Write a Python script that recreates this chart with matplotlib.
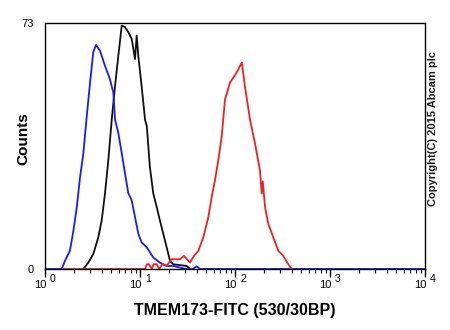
import matplotlib
matplotlib.use("Agg")
import matplotlib.pyplot as plt
from matplotlib.ticker import FixedLocator, NullFormatter, LogLocator
from matplotlib.transforms import blended_transform_factory, offset_copy

plt.rcParams['font.family'] = ['Liberation Sans', 'DejaVu Sans']

# Isotype control (blue)
blue_x = [1.0, 1.50, 1.62, 1.83, 1.99, 2.16, 2.34, 2.53, 2.75, 2.98, 3.22, 3.44,
          3.79, 4.28, 4.83, 5.24, 5.46, 5.91, 6.42, 6.95, 7.53, 8.18, 8.86,
          9.60, 10.4, 11.8, 13.8, 16.2, 19.1, 22.4, 26.4, 31.0, 36.0, 39.5,
          42.8, 10000.0]
blue_y = [0, 0, 2.4, 5.4, 11.4, 18.3, 27.3, 34.2, 45.3, 55.3, 64.3, 66.5,
          64.8, 60.3, 56.3, 52.3, 44.3, 40.4, 34.4, 28.4, 22.5, 20.4, 15.4,
          10.5, 7.9, 6.4, 3.4, 1.9, 0.9, 0.9, 0.4, 0, 0, 0.8,
          0, 0]

# Unlabelled control (black)
black_x = [2.53, 2.86, 3.22, 3.64, 3.95, 4.28, 4.64, 5.04, 5.46, 5.91, 6.42,
           6.95, 7.53, 8.18, 8.86, 9.23, 9.60, 10.4, 11.3, 11.8, 12.7, 13.8,
           15.0, 16.2, 17.6, 19.1, 20.7, 22.4, 31.0, 33.6]
black_y = [0, 1.9, 4.4, 9.4, 14.4, 22.4, 32.3, 44.3, 54.3, 63.2, 72.2,
           71.8, 70.3, 68.3, 62.3, 69.3, 63.2, 54.3, 44.3, 42.3, 30.3, 22.4,
           18.4, 14.4, 10.4, 6.4, 2.4, 1.4, 0.9, 0]

# TMEM173 stained sample (red)
red_x = [1.55, 11.3, 11.8, 12.4, 13.3, 13.9, 15.0, 15.9, 17.2, 19.1, 21.5,
         23.5, 26.4, 29.0, 33.6, 37.0, 41.1, 46.4, 52.4, 56.9, 61.5, 66.7,
         72.4, 78.5, 88.5, 104, 118, 127, 144, 162, 183, 191, 196, 207, 224,
         253, 286, 322, 364, 395]
red_y = [0, 0, 1.4, 1.4, 0, 1.4, 1.4, 0, 1.4, 1.0, 2.9,
         2.9, 2.9, 3.9, 1.9, 3.9, 5.4, 9.4, 15.4, 21.4, 26.3, 32.3,
         39.3, 50.3, 55.3, 58.3, 61.3, 54.3, 44.3, 37.4, 29.3, 22.4, 26.0,
         18.4, 13.4, 9.4, 5.4, 3.9, 1.4, 0]

decades = [0, 1, 2, 3, 4]
y_ticks = [0, 73]
x_label = "TMEM173-FITC (530/30BP)"
y_label = "Counts"
credit = "Copyright(C) 2015 Abcam plc"

fig = plt.figure(figsize=(4.5, 3.3), dpi=100)
ax = fig.add_axes([45 / 450, 1 - 269 / 330, 380 / 450, 246 / 330])

lw = 1.3
ax.plot(black_x, black_y, color='#101010', lw=lw)
ax.plot(blue_x, blue_y, color='#1a1aff', lw=lw)
ax.plot(red_x, red_y, color='#f02020', lw=lw)

ax.set_xscale('log')
ax.set_xlim(1, 10000)
ax.set_ylim(0, 73)

for s in ax.spines.values():
    s.set_linewidth(1.0)
    s.set_color('black')

ax.xaxis.set_major_locator(FixedLocator([10 ** d for d in decades]))
ax.xaxis.set_minor_locator(LogLocator(base=10, subs=range(2, 10)))
ax.xaxis.set_major_formatter(NullFormatter())
ax.xaxis.set_minor_formatter(NullFormatter())
ax.tick_params(axis='x', which='major', direction='out', length=6, width=1)
ax.tick_params(axis='x', which='minor', direction='out', length=3, width=0.8)

ax.set_yticks(y_ticks)
ax.set_yticklabels([str(v) for v in y_ticks])
ax.tick_params(axis='y', length=0, pad=8, labelsize=8)

# decade labels drawn as "10" with a raised exponent
trans = blended_transform_factory(ax.transData, ax.transAxes)
for d in decades:
    base_t = offset_copy(trans, fig=fig, x=1, y=-16, units='dots')
    ax.text(10 ** d, 0, "10", transform=base_t, ha='right', va='center',
            fontsize=8, clip_on=False)
    exp_t = offset_copy(trans, fig=fig, x=5, y=-10, units='dots')
    ax.text(10 ** d, 0, str(d), transform=exp_t, ha='left', va='center',
            fontsize=7.5, clip_on=False)

fig.text(235 / 450, 1 - 311 / 330, x_label, ha='center', va='center',
         fontsize=11.5, fontweight='bold')
fig.text(23 / 450, 1 - 139 / 330, y_label, ha='center', va='center',
         rotation=90, fontsize=11, fontweight='bold')
fig.text(433 / 450, 1 - 129 / 330, credit, ha='center', va='center',
         rotation=90, fontsize=8, fontweight='bold', color='#1a1a1a')

fig.savefig('out.png', dpi=100)
